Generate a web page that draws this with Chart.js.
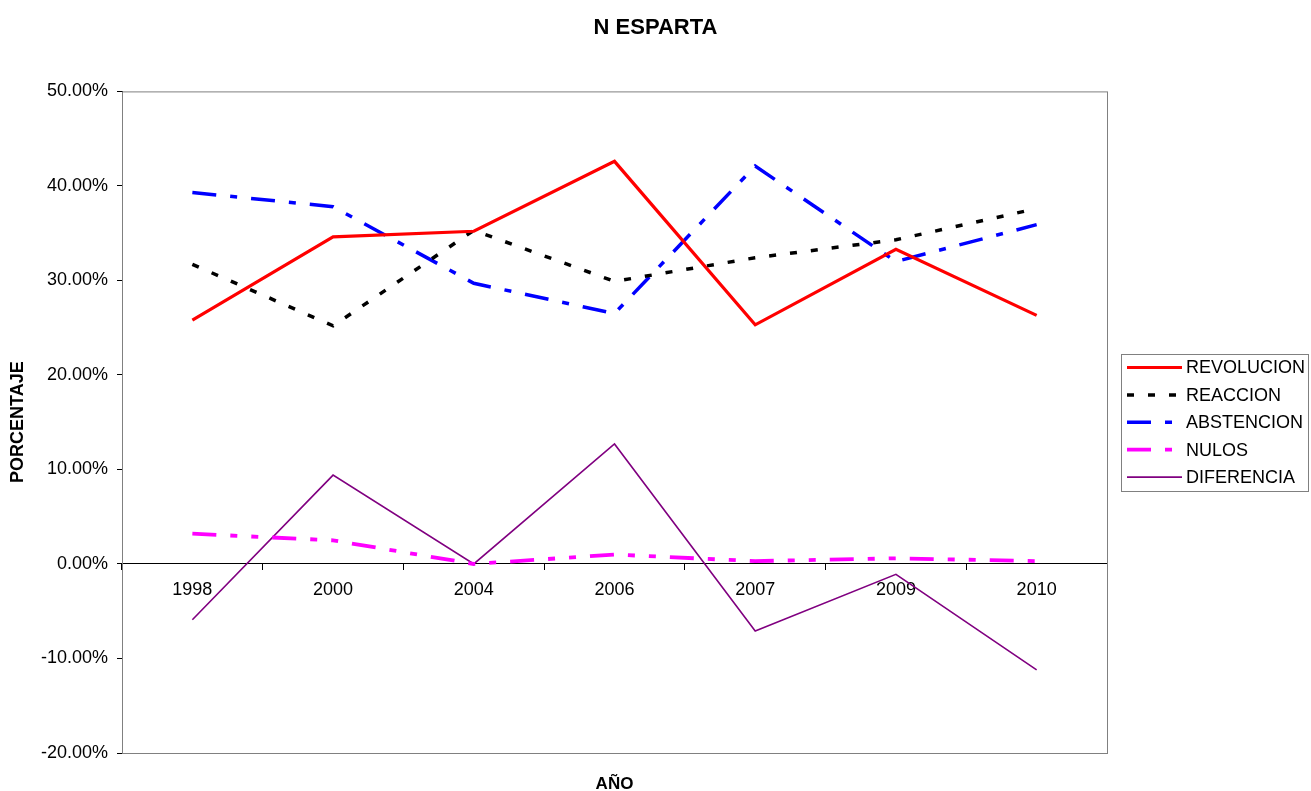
<!DOCTYPE html>
<html>
<head>
<meta charset="utf-8">
<script src="https://cdn.jsdelivr.net/npm/chart.js@4"></script>
<style>
html,body{margin:0;padding:0;background:#fff;}
#wrap{width:1311px;height:791px;}
</style>
</head>
<body>
<div id="wrap"><canvas id="chart"></canvas></div>
<script>
// values in percent
const years = ["1998","2000","2004","2006","2007","2009","2010"];
const revolucion = [25.8, 34.6, 35.2, 42.6, 25.3, 33.3, 26.3];
const reaccion   = [31.7, 25.2, 35.3, 29.9, 32.4, 34.3, 37.6];
const abstencion = [39.3, 37.8, 29.7, 26.5, 42.1, 32.0, 35.9];
const nulos      = [3.2, 2.5, 0.0, 1.0, 0.3, 0.6, 0.3];
const diferencia = [-5.9, 9.4, 0.0, 12.7, -7.1, -1.1, -11.2];
const yTicks = [-20, -10, 0, 10, 20, 30, 40, 50];

const FONT = "Arial, 'Liberation Sans', sans-serif";

// gray frame round the plot area
const frame = {
  id: "frame",
  beforeDatasetsDraw(chart){
    const a = chart.chartArea, c = chart.ctx;
    c.save();
    c.strokeStyle = "#808080";
    c.lineWidth = 1;
    c.strokeRect(a.left + 0.5, a.top + 0.5, a.right - a.left, a.bottom - a.top);
    c.restore();
  }
};

// excel style legend box + x axis title at the bottom
const boxLegend = {
  id: "boxLegend",
  afterDraw(chart){
    const c = chart.ctx;
    const a = chart.chartArea;
    c.save();
    c.strokeStyle = "#808080";
    c.lineWidth = 1;
    c.strokeRect(1121.5, 354.5, 187, 137);
    c.font = "18px " + FONT;
    c.textBaseline = "middle";
    c.fillStyle = "#000";
    chart.data.datasets.forEach(function(ds, i){
      const y = 367.5 + i * 27.4;
      c.beginPath();
      c.strokeStyle = ds.borderColor;
      c.lineWidth = ds.borderWidth;
      c.setLineDash(ds.borderDash || []);
      c.moveTo(1127, y);
      c.lineTo(1182, y);
      c.stroke();
      c.setLineDash([]);
      c.fillText(ds.label, 1186, y + 1);
    });
    c.font = "bold 17px " + FONT;
    c.textAlign = "center";
    c.fillText("AÑO", (a.left + a.right) / 2, 784);
    c.restore();
  }
};

new Chart(document.getElementById("chart"), {
  type: "line",
  data: {
    labels: years,
    datasets: [
      {label:"REVOLUCION", data:revolucion, borderColor:"#ff0000", borderWidth:3.2},
      {label:"REACCION", data:reaccion, borderColor:"#000000", borderWidth:3.5, borderDash:[7,14]},
      {label:"ABSTENCION", data:abstencion, borderColor:"#0000ff", borderWidth:3.5, borderDash:[24,14,7,14]},
      {label:"NULOS", data:nulos, borderColor:"#ff00ff", borderWidth:3.8, borderDash:[24,14,7,14,7,14]},
      {label:"DIFERENCIA", data:diferencia, borderColor:"#800080", borderWidth:1.6}
    ]
  },
  options: {
    responsive: true,
    maintainAspectRatio: false,
    animation: false,
    elements: {
      point: {radius: 0, hoverRadius: 0},
      line: {tension: 0}
    },
    layout: {padding: {left: 0, right: 0, top: 0, bottom: 38}},
    plugins: {
      legend: {display: false},
      tooltip: {enabled: false},
      title: {
        display: true,
        text: "N ESPARTA",
        color: "#000",
        font: {family: FONT, size: 22, weight: "bold"},
        padding: {top: 15, bottom: 50}
      }
    },
    scales: {
      x: {
        position: {y: 0},
        offset: true,
        grid: {offset: true, drawOnChartArea: false, drawTicks: true, tickLength: 6, color: "#000"},
        border: {display: true, color: "#000", width: 1},
        ticks: {color: "#000", font: {family: FONT, size: 18}, padding: 9, maxRotation: 0}
      },
      y: {
        min: -20,
        max: 50,
        afterBuildTicks(scale){ scale.ticks = yTicks.map(v => ({value: v})); },
        afterFit(scale){ scale.width = 122; },
        grid: {drawOnChartArea: false, drawTicks: true, tickLength: 5, color: "#000"},
        border: {display: true, color: "#000", width: 1},
        ticks: {
          color: "#000",
          font: {family: FONT, size: 18},
          padding: 9,
          callback: v => v.toFixed(2) + "%"
        },
        title: {
          display: true,
          text: "PORCENTAJE",
          color: "#000",
          font: {family: FONT, size: 18, weight: "bold"},
          padding: {top: 7, bottom: 0}
        }
      },
      // empty right axis, only reserves room for the legend box
      yRight: {
        position: "right",
        afterFit(scale){ scale.width = 204; },
        grid: {display: false},
        border: {display: false},
        ticks: {display: false}
      }
    }
  },
  plugins: [frame, boxLegend]
});
</script>
</body>
</html>
